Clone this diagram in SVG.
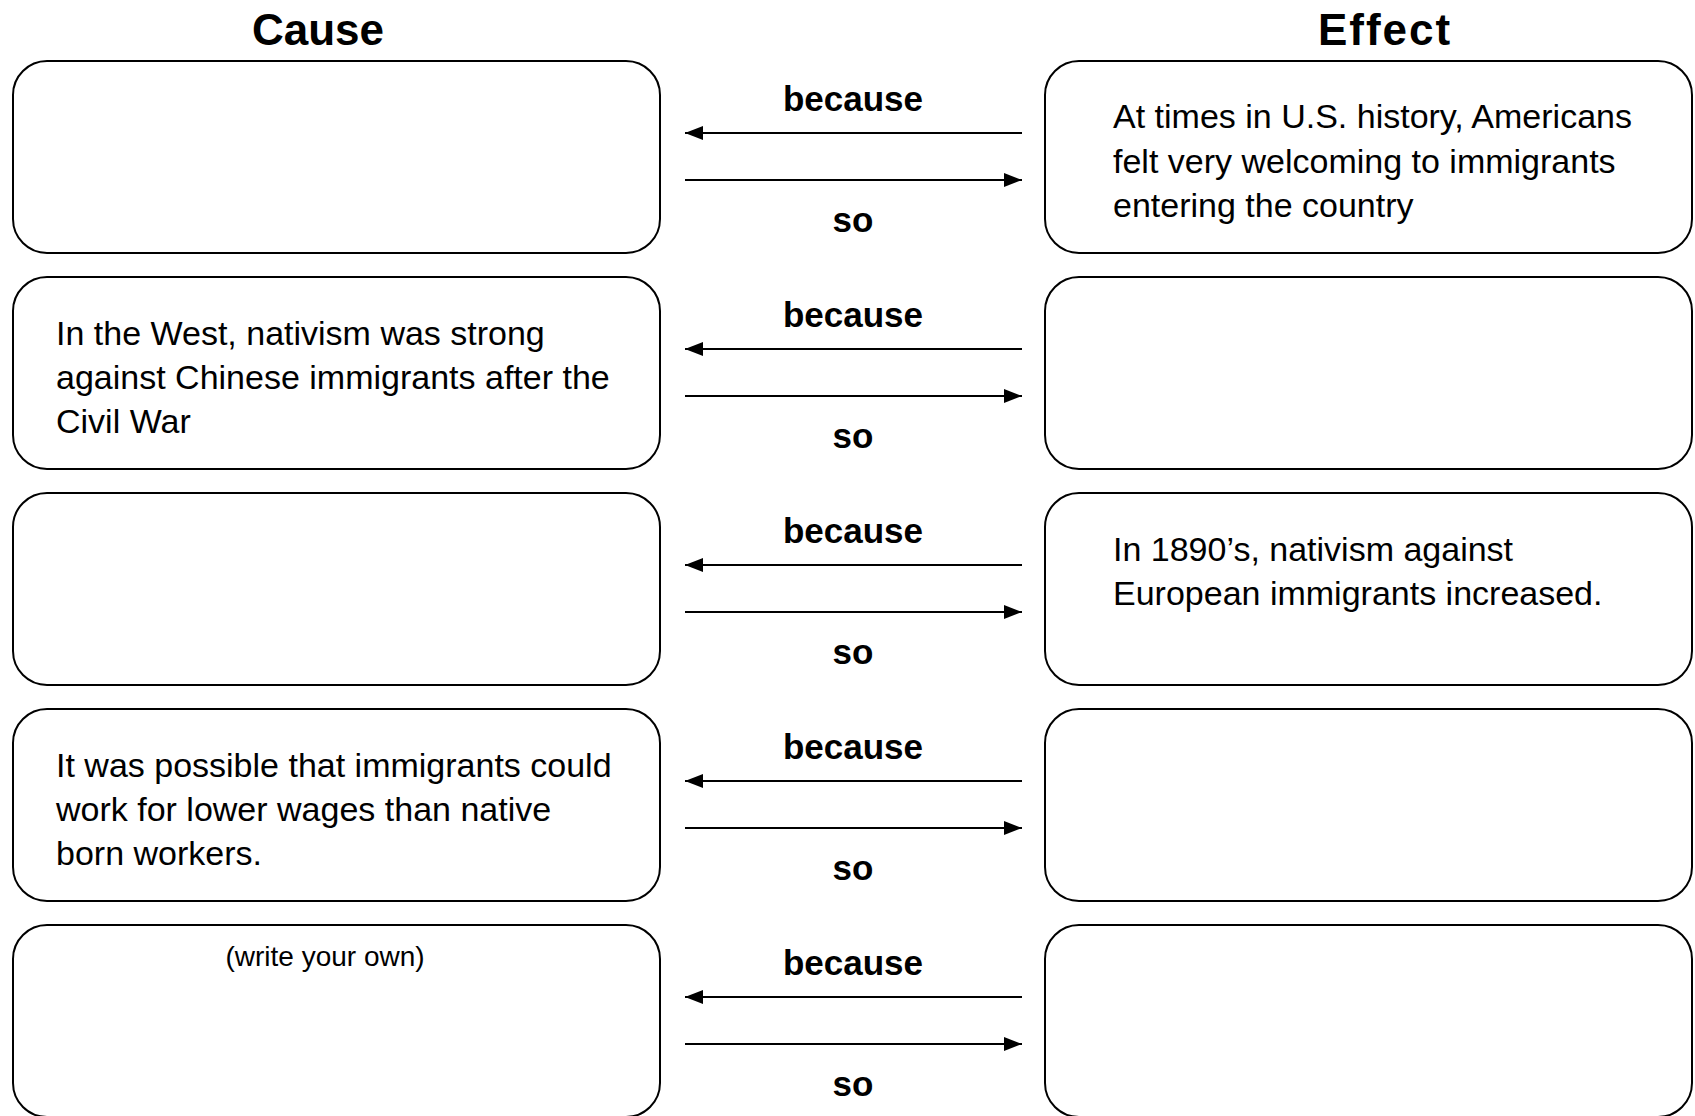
<svg xmlns="http://www.w3.org/2000/svg" width="1695" height="1116" viewBox="0 0 1695 1116">
<style>
.box{fill:#fff;stroke:#000;stroke-width:2}
.title{font-family:"Liberation Sans",Arial,sans-serif;font-weight:bold;font-size:44px;text-anchor:middle}
.lbl{font-family:"Liberation Sans",Arial,sans-serif;font-weight:bold;font-size:35px;text-anchor:middle}
.body{font-family:"Liberation Sans",Arial,sans-serif;font-size:34px}
.small{font-family:"Liberation Sans",Arial,sans-serif;font-size:28px;text-anchor:middle}
.conn{stroke:#000;stroke-width:2;fill:none}
</style>
<defs>
<marker id="a2" viewBox="0 0 18 14" refX="18" refY="7" markerWidth="18" markerHeight="14" markerUnits="userSpaceOnUse" orient="auto">
<path d="M0,0 L18,7 L0,14 Z" fill="#000"/>
</marker>
</defs>
<rect width="1695" height="1116" fill="#fff"/>
<text class="title" x="318" y="45">Cause</text>
<text class="title" x="1385" y="45" letter-spacing="2">Effect</text>

<g id="cause1"><rect class="box" x="13" y="61" width="647" height="192" rx="34"/></g>
<g id="effect1"><rect class="box" x="1045" y="61" width="647" height="192" rx="34"/>
<text class="body" x="1113" y="128">At times in U.S. history, Americans</text>
<text class="body" x="1113" y="173">felt very welcoming to immigrants</text>
<text class="body" x="1113" y="217">entering the country</text></g>

<g id="cause2"><rect class="box" x="13" y="277" width="647" height="192" rx="34"/>
<text class="body" x="56" y="345">In the West, nativism was strong</text>
<text class="body" x="56" y="389">against Chinese immigrants after the</text>
<text class="body" x="56" y="433">Civil War</text></g>
<g id="effect2"><rect class="box" x="1045" y="277" width="647" height="192" rx="34"/></g>

<g id="cause3"><rect class="box" x="13" y="493" width="647" height="192" rx="34"/></g>
<g id="effect3"><rect class="box" x="1045" y="493" width="647" height="192" rx="34"/>
<text class="body" x="1113" y="561">In 1890’s, nativism against</text>
<text class="body" x="1113" y="605">European immigrants increased.</text></g>

<g id="cause4"><rect class="box" x="13" y="709" width="647" height="192" rx="34"/>
<text class="body" x="56" y="777">It was possible that immigrants could</text>
<text class="body" x="56" y="821">work for lower wages than native</text>
<text class="body" x="56" y="865">born workers.</text></g>
<g id="effect4"><rect class="box" x="1045" y="709" width="647" height="192" rx="34"/></g>

<g id="cause5"><rect class="box" x="13" y="925" width="647" height="192" rx="34"/>
<text class="small" x="325" y="966">(write your own)</text></g>
<g id="effect5"><rect class="box" x="1045" y="925" width="647" height="192" rx="34"/></g>

<g id="connectors">
<g id="row1">
<text class="lbl" x="853" y="111">because</text>
<line class="conn" x1="1022" y1="133" x2="685" y2="133" marker-end="url(#a2)"/>
<line class="conn" x1="685" y1="180" x2="1022" y2="180" marker-end="url(#a2)"/>
<text class="lbl" x="853" y="232">so</text>
</g>
<g id="row2">
<text class="lbl" x="853" y="327">because</text>
<line class="conn" x1="1022" y1="349" x2="685" y2="349" marker-end="url(#a2)"/>
<line class="conn" x1="685" y1="396" x2="1022" y2="396" marker-end="url(#a2)"/>
<text class="lbl" x="853" y="448">so</text>
</g>
<g id="row3">
<text class="lbl" x="853" y="543">because</text>
<line class="conn" x1="1022" y1="565" x2="685" y2="565" marker-end="url(#a2)"/>
<line class="conn" x1="685" y1="612" x2="1022" y2="612" marker-end="url(#a2)"/>
<text class="lbl" x="853" y="664">so</text>
</g>
<g id="row4">
<text class="lbl" x="853" y="759">because</text>
<line class="conn" x1="1022" y1="781" x2="685" y2="781" marker-end="url(#a2)"/>
<line class="conn" x1="685" y1="828" x2="1022" y2="828" marker-end="url(#a2)"/>
<text class="lbl" x="853" y="880">so</text>
</g>
<g id="row5">
<text class="lbl" x="853" y="975">because</text>
<line class="conn" x1="1022" y1="997" x2="685" y2="997" marker-end="url(#a2)"/>
<line class="conn" x1="685" y1="1044" x2="1022" y2="1044" marker-end="url(#a2)"/>
<text class="lbl" x="853" y="1096">so</text>
</g>
</g>
</svg>
